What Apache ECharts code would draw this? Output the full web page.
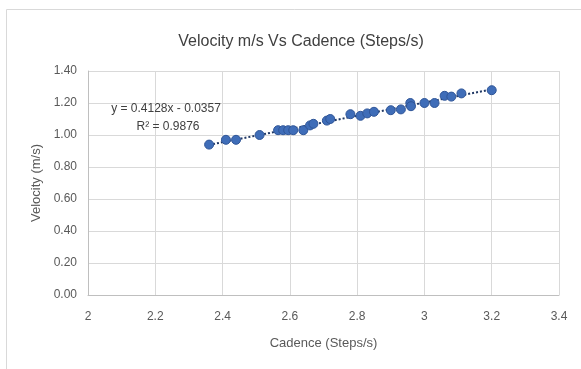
<!DOCTYPE html>
<html lang="en">
<head>
  <meta charset="UTF-8">
  <title>Velocity vs Cadence</title>
  <style>
    html,body{margin:0;padding:0;background:#fff;}
    #main{width:581px;height:369px;}
  </style>
</head>
<body>
  <div id="main"></div>
  <script src="https://cdn.jsdelivr.net/npm/echarts@6/dist/echarts.min.js"></script>
  <script>
    // cadence (steps/s)
    const cadence=[2.36,2.41,2.44,2.51,2.565,2.58,2.595,2.61,2.64,2.66,2.67,2.71,2.72,2.78,2.81,2.83,2.85,2.90,2.93,2.958,2.96,3.00,3.03,3.06,3.08,3.11,3.20];
    // velocity (m/s)
    const velocity=[0.94,0.97,0.97,1.00,1.03,1.03,1.03,1.03,1.03,1.06,1.07,1.09,1.10,1.13,1.12,1.135,1.145,1.155,1.16,1.20,1.18,1.20,1.20,1.245,1.24,1.26,1.28];
    // linear trendline from the chart label
    const slope=0.4128;
    const intercept=-0.0357;
    const eqText='y = 0.4128x - 0.0357';
    const r2Text='R² = 0.9876';

    const points=cadence.map((c,i)=>[c,velocity[i]]);
    const xMin=Math.min(...cadence), xMax=Math.max(...cadence);
    const trend=[[xMin,slope*xMin+intercept],[xMax,slope*xMax+intercept]];

    const font='Liberation Sans';
    const chart=echarts.init(document.querySelector('#main'));
    const option={
      animation:false,
      graphic:[{
        type:'rect',
        shape:{x:6.5,y:9.5,width:620,height:420},
        style:{fill:'none',stroke:'#d9d9d9',lineWidth:1},
        silent:true
      }],
      title:[
        {
          text:'Velocity m/s Vs Cadence (Steps/s)',
          left:296,top:29,textAlign:'center',
          textStyle:{fontFamily:font,fontSize:16,fontWeight:'normal',color:'#404040'}
        },
        {
          text:eqText,
          left:161,top:98,textAlign:'center',
          textStyle:{fontFamily:font,fontSize:12,fontWeight:'normal',color:'#404040'}
        },
        {
          text:r2Text,
          left:163,top:116,textAlign:'center',
          textStyle:{fontFamily:font,fontSize:12,fontWeight:'normal',color:'#404040'}
        }
      ],
      grid:{left:88,right:22,top:71,bottom:74},
      xAxis:{
        type:'value',min:2,max:3.4,interval:0.2,
        name:'Cadence (Steps/s)',nameLocation:'middle',nameGap:42,
        nameTextStyle:{fontFamily:font,fontSize:13,color:'#595959'},
        axisLine:{lineStyle:{color:'#bfbfbf'}},
        axisTick:{show:false},
        axisLabel:{fontFamily:font,fontSize:12,color:'#595959',margin:16,
          formatter:v=>String(+v.toFixed(1))},
        splitLine:{show:true,lineStyle:{color:'#d9d9d9'}}
      },
      yAxis:{
        type:'value',min:0,max:1.4,interval:0.2,
        name:'Velocity (m/s)',nameLocation:'middle',nameGap:43,
        nameTextStyle:{fontFamily:font,fontSize:13,color:'#595959'},
        axisLine:{show:true,lineStyle:{color:'#bfbfbf'}},
        axisTick:{show:false},
        axisLabel:{fontFamily:font,fontSize:12,color:'#595959',margin:11,
          formatter:v=>v.toFixed(2)},
        splitLine:{show:true,lineStyle:{color:'#d9d9d9'}}
      },
      series:[
        {
          type:'line',
          data:trend,
          symbol:'none',
          lineStyle:{type:'dotted',width:2,color:'#203864'},
          z:1
        },
        {
          type:'scatter',
          data:points,
          symbolSize:9,
          itemStyle:{color:'#3f6db8',borderColor:'#2f5597',borderWidth:1,opacity:1},
          z:2
        }
      ]
    };
    chart.setOption(option);
  </script>
</body>
</html>
